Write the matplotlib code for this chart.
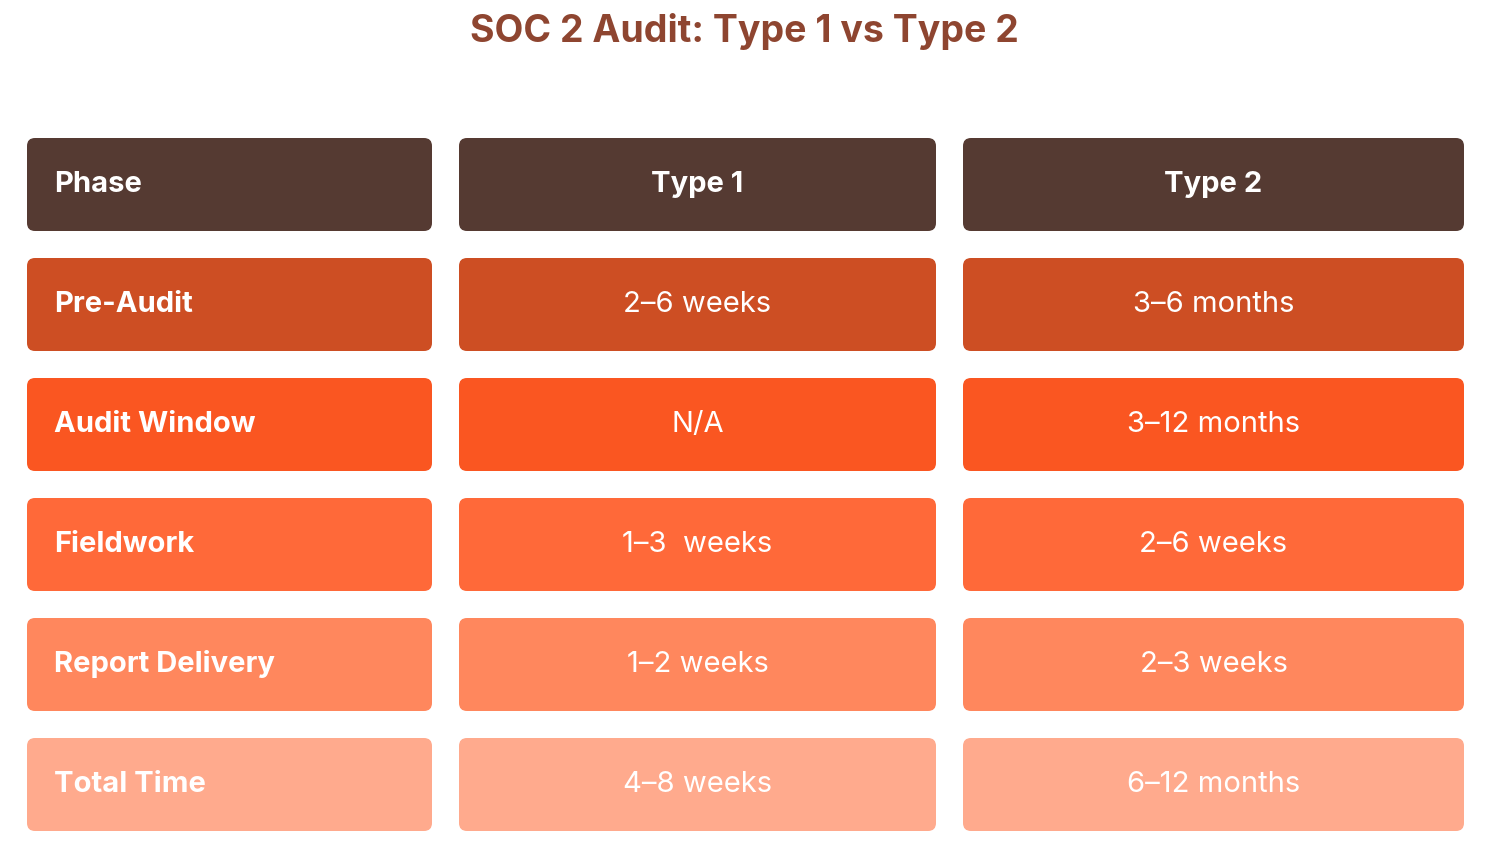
import matplotlib
matplotlib.use("Agg")
import matplotlib.pyplot as plt
from matplotlib.patches import FancyBboxPatch

title = "SOC 2 Audit: Type 1 vs Type 2"
headers = ["Phase", "Type 1", "Type 2"]
phases = ["Pre-Audit", "Audit Window", "Fieldwork", "Report Delivery", "Total Time"]
type1 = ["2–6 weeks", "N/A", "1–3  weeks", "1–2 weeks", "4–8 weeks"]
type2 = ["3–6 months", "3–12 months", "2–6 weeks", "2–3 weeks", "6–12 months"]
row_colors = ["#CD4E23", "#FA5621", "#FF6939", "#FF875D", "#FFAA8D"]
header_color = "#553A32"

W, H = 1488, 846
fig = plt.figure(figsize=(W/100, H/100), dpi=100)
ax = fig.add_axes([0, 0, 1, 1])
ax.set_xlim(0, W); ax.set_ylim(H, 0); ax.axis("off")
plt.rcParams['font.family'] = ['Inter', 'DejaVu Sans']

cols = [(27, 432), (459, 936), (963, 1464)]
row_top0, row_h, step = 138, 93, 120

def box(x0, x1, y0, color):
    ax.add_patch(FancyBboxPatch((x0+8, y0+8), x1-x0-16, row_h-16,
                                boxstyle="round,pad=8", fc=color, ec="none"))

ax.text(W/2, 32, title, ha="center", va="center", fontsize=27, fontweight="bold", color="#8E4530")

rows = [(headers, header_color)] + [([p, a, b], c) for p, a, b, c in zip(phases, type1, type2, row_colors)]
for i, (cells, color) in enumerate(rows):
    y0 = row_top0 + i*step
    yc = y0 + row_h/2
    for j, ((x0, x1), t) in enumerate(zip(cols, cells)):
        box(x0, x1, y0, color)
        bold = (i == 0) or (j == 0)
        if j == 0:
            ax.text(x0+27, yc, t, ha="left", va="center", fontsize=21, fontweight="bold", color="white")
        else:
            ax.text((x0+x1)/2, yc, t, ha="center", va="center", fontsize=21,
                    fontweight="bold" if bold else "normal", color="white")

fig.savefig("out.png", dpi=100)
